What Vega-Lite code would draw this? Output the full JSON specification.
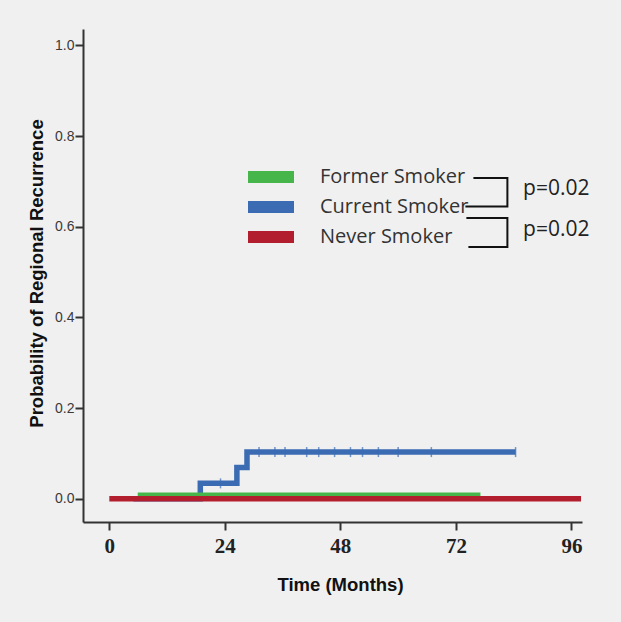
{
  "$schema": "https://vega.github.io/schema/vega-lite/v6.json",
  "width": 499,
  "height": 493,
  "autosize": {"type": "none"},
  "padding": {"left": 83, "top": 29, "right": 39, "bottom": 100},
  "background": "#f0f0f0",
  "config": {"view": {"stroke": null}, "axis": {"grid": false}},
  "datasets": {
    "curves": [
      {"group": "Current Smoker", "month": 5.0, "prob": 0},
      {"group": "Current Smoker", "month": 18.9, "prob": 0.034},
      {"group": "Current Smoker", "month": 26.5, "prob": 0.069},
      {"group": "Current Smoker", "month": 28.6, "prob": 0.103},
      {"group": "Current Smoker", "month": 84.4, "prob": 0.103},
      {"group": "Former Smoker", "month": 5.9, "prob": 0.009},
      {"group": "Former Smoker", "month": 77.1, "prob": 0.009},
      {"group": "Never Smoker", "month": 0, "prob": 0},
      {"group": "Never Smoker", "month": 98, "prob": 0}
    ],
    "censor": [
      {"month": 23.1, "prob": 0.034},
      {"month": 31.1, "prob": 0.103},
      {"month": 34.4, "prob": 0.103},
      {"month": 36.5, "prob": 0.103},
      {"month": 41.0, "prob": 0.103},
      {"month": 43.5, "prob": 0.103},
      {"month": 46.8, "prob": 0.103},
      {"month": 50.1, "prob": 0.103},
      {"month": 52.6, "prob": 0.103},
      {"month": 55.9, "prob": 0.103},
      {"month": 60.0, "prob": 0.103},
      {"month": 66.9, "prob": 0.103},
      {"month": 84.4, "prob": 0.103}
    ],
    "brackets": [
      {"bracket": "A", "seq": 1, "month": 75.64, "prob": 0.7075},
      {"bracket": "A", "seq": 2, "month": 82.7, "prob": 0.7075},
      {"bracket": "A", "seq": 3, "month": 82.7, "prob": 0.6448},
      {"bracket": "A", "seq": 4, "month": 73.97, "prob": 0.6448},
      {"bracket": "B", "seq": 1, "month": 74.18, "prob": 0.6192},
      {"bracket": "B", "seq": 2, "month": 82.7, "prob": 0.6192},
      {"bracket": "B", "seq": 3, "month": 82.7, "prob": 0.5553},
      {"bracket": "B", "seq": 4, "month": 74.6, "prob": 0.5553}
    ],
    "pvals": [
      {"month": 85.96, "prob": 0.6832, "label": "p=0.02"},
      {"month": 85.96, "prob": 0.5934, "label": "p=0.02"}
    ]
  },
  "encoding": {
    "x": {
      "field": "month", "type": "quantitative",
      "scale": {"domain": [-5.47, 98.2], "nice": false, "zero": false},
      "axis": {
        "values": [0, 24, 48, 72, 96],
        "domainColor": "#333", "domainWidth": 2,
        "tickColor": "#333", "tickWidth": 2, "tickSize": 8,
        "labelFont": "Liberation Serif", "labelFontSize": 21, "labelFontWeight": "bold", "labelColor": "#222", "labelPadding": 5,
        "title": "Time (Months)", "titleFont": "Liberation Sans", "titleFontSize": 18.5, "titleFontWeight": "bold", "titleColor": "#111",
        "titleX": 257, "titleY": 62, "titleAlign": "center", "titleBaseline": "middle"
      }
    },
    "y": {
      "field": "prob", "type": "quantitative",
      "scale": {"domain": [-0.0512, 1.036], "nice": false, "zero": false},
      "axis": {
        "values": [0, 0.2, 0.4, 0.6, 0.8, 1.0], "format": ".1f",
        "domainColor": "#333", "domainWidth": 2,
        "tickColor": "#333", "tickWidth": 2, "tickSize": 8,
        "labelFont": "Liberation Sans", "labelFontSize": 14, "labelColor": "#3a3a3a", "labelPadding": 1,
        "title": "Probability of Regional Recurrence", "titleFont": "Liberation Sans", "titleFontSize": 18.5, "titleFontWeight": "bold", "titleColor": "#111",
        "titleX": -47, "titleY": 244, "titleAlign": "center", "titleBaseline": "middle", "titleAngle": -90
      }
    }
  },
  "layer": [
    {
      "data": {"name": "curves"},
      "transform": [{"filter": "datum.group === 'Current Smoker'"}],
      "mark": {"type": "line", "interpolate": "step-after", "strokeWidth": 5.5},
      "encoding": {
        "color": {
          "field": "group", "type": "nominal",
          "scale": {"domain": ["Former Smoker", "Current Smoker", "Never Smoker"], "range": ["#46b64a", "#3b6bb3", "#b31e2e"]},
          "legend": {"orient": "none", "legendX": 161, "legendY": 138, "title": null, "padding": 0,
            "symbolType": "M-3.833,-1L3.833,-1L3.833,1L-3.833,1Z", "symbolSize": 144, "symbolStrokeWidth": 0, "symbolOffset": 17,
            "labelFont": "Open Sans", "labelFontSize": 20, "labelColor": "#333", "labelOffset": 39, "rowPadding": 10,
            "encode": {"symbols": {"update": {"fill": {"scale": "color", "field": "value"}, "strokeWidth": {"value": 0}}}}}
        }
      }
    },
    {
      "data": {"name": "censor"},
      "mark": {"type": "tick", "orient": "vertical", "color": "#3b6bb3", "size": 10, "thickness": 1.5},
      "encoding": {}
    },
    {
      "data": {"name": "curves"},
      "transform": [{"filter": "datum.group === 'Former Smoker'"}],
      "mark": {"type": "line", "interpolate": "step-after", "strokeWidth": 4.3},
      "encoding": {
        "color": {
          "field": "group", "type": "nominal",
          "scale": {"domain": ["Former Smoker", "Current Smoker", "Never Smoker"], "range": ["#46b64a", "#3b6bb3", "#b31e2e"]},
          "legend": {"orient": "none", "legendX": 161, "legendY": 138, "title": null, "padding": 0,
            "symbolType": "M-3.833,-1L3.833,-1L3.833,1L-3.833,1Z", "symbolSize": 144, "symbolStrokeWidth": 0, "symbolOffset": 17,
            "labelFont": "Open Sans", "labelFontSize": 20, "labelColor": "#333", "labelOffset": 39, "rowPadding": 10,
            "encode": {"symbols": {"update": {"fill": {"scale": "color", "field": "value"}, "strokeWidth": {"value": 0}}}}}
        }
      }
    },
    {
      "data": {"name": "curves"},
      "transform": [{"filter": "datum.group === 'Never Smoker'"}],
      "mark": {"type": "line", "interpolate": "step-after", "strokeWidth": 5.5},
      "encoding": {
        "color": {
          "field": "group", "type": "nominal",
          "scale": {"domain": ["Former Smoker", "Current Smoker", "Never Smoker"], "range": ["#46b64a", "#3b6bb3", "#b31e2e"]},
          "legend": {"orient": "none", "legendX": 161, "legendY": 138, "title": null, "padding": 0,
            "symbolType": "M-3.833,-1L3.833,-1L3.833,1L-3.833,1Z", "symbolSize": 144, "symbolStrokeWidth": 0, "symbolOffset": 17,
            "labelFont": "Open Sans", "labelFontSize": 20, "labelColor": "#333", "labelOffset": 39, "rowPadding": 10,
            "encode": {"symbols": {"update": {"fill": {"scale": "color", "field": "value"}, "strokeWidth": {"value": 0}}}}}
        }
      }
    },
    {
      "data": {"name": "brackets"},
      "mark": {"type": "line", "color": "#111", "strokeWidth": 2},
      "encoding": {
        "detail": {"field": "bracket"},
        "order": {"field": "seq", "type": "quantitative"}
      }
    },
    {
      "data": {"name": "pvals"},
      "mark": {"type": "text", "align": "left", "baseline": "middle", "font": "Open Sans", "fontSize": 21, "color": "#222"},
      "encoding": {"text": {"field": "label"}}
    }
  ]
}
